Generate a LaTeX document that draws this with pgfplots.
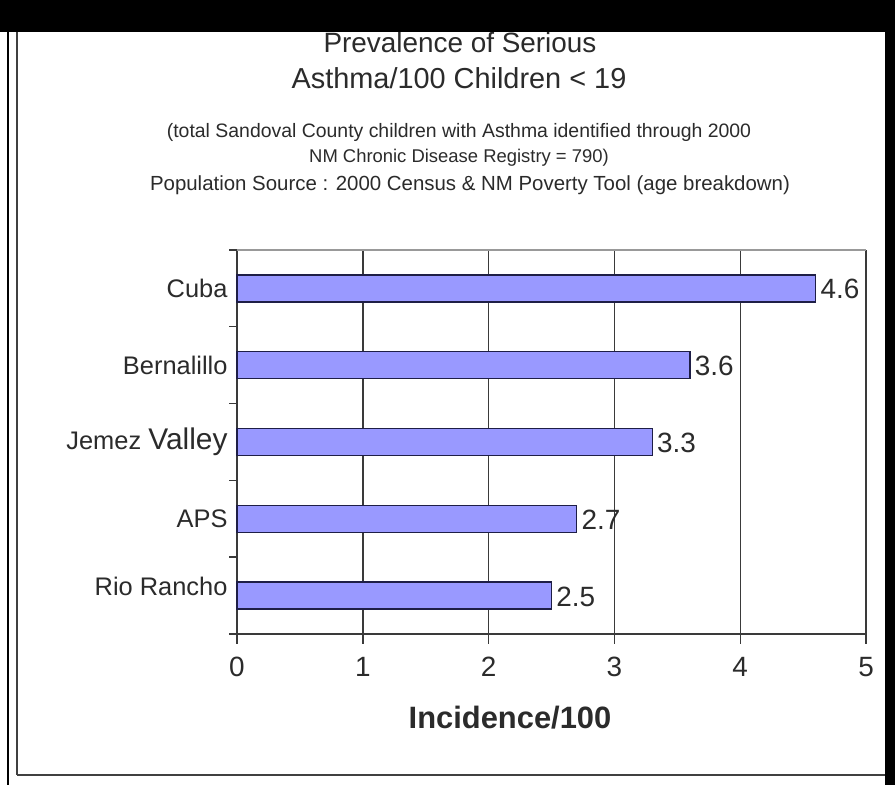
\documentclass[border=0pt]{standalone}
\usepackage{pgfplots}
\pgfplotsset{compat=1.18}
\usepackage{fontspec}
\setmainfont{Liberation Sans}
\definecolor{barfill}{HTML}{9999FF}
\definecolor{barline}{HTML}{1E1E46}
\definecolor{txt}{HTML}{2B2B2B}
\definecolor{gridc}{HTML}{3A3A3A}
\newcommand{\fs}[1]{\fontsize{#1}{#1}\selectfont}

\begin{document}
\begin{tikzpicture}[x=1bp,y=1bp]
\useasboundingbox (0,0) rectangle (895,785);
\fill[white] (0,0) rectangle (895,785);

% title block
\node[txt, font=\fs{28}] at (460,742) {Prevalence of Serious};
\node[txt, font=\fs{29}] at (459,707) {Asthma/100 Children < 19};
\node[txt, font=\fs{19.5}] at (459,653) {(total Sandoval County children with Asthma identified through 2000};
\node[txt, font=\fs{18.5}] at (459,627) {NM Chronic Disease Registry = 790)};
\node[txt, font=\fs{20.5}] at (470,600) {Population Source : 2000 Census \& NM Poverty Tool (age breakdown)};

\begin{axis}[
  at={(237bp,151bp)}, anchor=south west,
  scale only axis, width=629bp, height=384bp,
  xbar, bar width=27bp,
  xmin=0, xmax=5, ymin=-0.5, ymax=4.5,
  axis x line*=bottom, axis y line*=left,
  axis line style={draw=gridc, line width=1.6bp, -},
  xtick={0,1,2,3,4,5},
  ytick={0,1,2,3,4},
  yticklabels={\raisebox{18bp}{Rio Rancho}, APS, Jemez {\fs{30}Valley}, Bernalillo, Cuba},
  minor ytick={-0.5,0.5,1.5,2.5,3.5,4.5},
  tick align=outside,
  major tick length=10bp, minor tick length=8bp,
  major y tick style={draw=none},
  minor y tick style={draw=gridc, line width=1.4bp},
  major x tick style={draw=gridc, line width=1.4bp},
  xmajorgrids,
  major grid style={draw=gridc, line width=1.4bp},
  /pgf/number format/assume math mode=true,
  xticklabel style={font=\fs{28}, text=txt, yshift=-10bp},
  yticklabel style={font=\fs{25.5}, text=txt, xshift=4bp},
  point meta=explicit symbolic,
  nodes near coords,
  every node near coord/.append style={font=\fs{28}, text=txt, anchor=west, xshift=1bp, yshift=-1bp},
  clip=false,
]
\addplot[fill=barfill, draw=barline, line width=1.3bp] table[x=v, y=pos, meta=lab] {
pos v   lab
4   4.6 4.6
3   3.6 3.6
2   3.3 3.3
1   2.7 2.7
0   2.5 2.5
};
\draw[gray!80, line width=1.2bp] (rel axis cs:0,1) -- (rel axis cs:1,1);
\end{axis}

\node[txt, font=\fs{31}\bfseries] at (510,67) {Incidence/100};

% outer frame of the panel
\fill[black] (0,753) rectangle (895,785);
\fill[black] (885,0) rectangle (895,785);
\draw[black, line width=2bp] (8,0) -- (8,753);
\draw[black!75, line width=2bp] (17,10) -- (17,753);
\draw[black!75, line width=2bp] (17,10) -- (885,10);
\end{tikzpicture}
\end{document}
